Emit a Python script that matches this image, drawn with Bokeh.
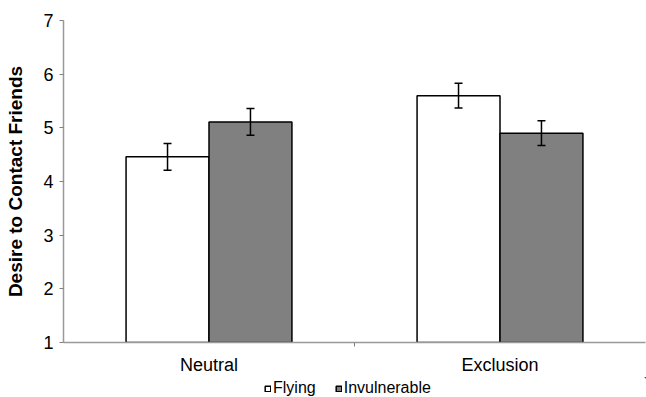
from bokeh.plotting import figure
from bokeh.layouts import column
from bokeh.models import ColumnDataSource, FixedTicker, Range1d, Whisker, TeeHead, Legend, LegendItem
from bokeh.embed import file_html
from bokeh.resources import INLINE

categories = ["Neutral", "Exclusion"]
series = ["Flying", "Invulnerable"]
flying = [4.46, 5.60]
invulnerable = [5.11, 4.90]
flying_err = [0.25, 0.23]
invulnerable_err = [0.25, 0.23]
y_ticks = [1, 2, 3, 4, 5, 6, 7]

FONT = "Liberation Sans"
WHITE = "white"
GRAY = "#808080"
centers = [i + 0.5 for i in range(len(categories))]
bw = 0.285

p = figure(width=646, height=377, output_backend="svg", toolbar_location=None,
           x_range=Range1d(0, len(categories)), y_range=Range1d(1, 7),
           min_border_left=63, min_border_right=1, min_border_top=20, min_border_bottom=35)
p.outline_line_color = None
p.grid.grid_line_color = None

src_f = ColumnDataSource(dict(x=[c - bw / 2 for c in centers], top=flying,
                              lo=[v - e for v, e in zip(flying, flying_err)],
                              hi=[v + e for v, e in zip(flying, flying_err)]))
src_i = ColumnDataSource(dict(x=[c + bw / 2 for c in centers], top=invulnerable,
                              lo=[v - e for v, e in zip(invulnerable, invulnerable_err)],
                              hi=[v + e for v, e in zip(invulnerable, invulnerable_err)]))

p.vbar(x="x", top="top", bottom=1, width=bw, source=src_f,
       fill_color=WHITE, line_color="black", line_width=1.5)
p.vbar(x="x", top="top", bottom=1, width=bw, source=src_i,
       fill_color=GRAY, line_color="black", line_width=1.5)

for src in (src_f, src_i):
    w = Whisker(base="x", lower="lo", upper="hi", source=src, level="overlay",
                line_color="black", line_width=1.5,
                upper_head=TeeHead(size=8, line_color="black", line_width=1.5),
                lower_head=TeeHead(size=8, line_color="black", line_width=1.5))
    p.add_layout(w)

# x axis
p.xaxis.ticker = FixedTicker(ticks=centers, minor_ticks=[1])
p.xaxis.major_label_overrides = {c: n for c, n in zip(centers, categories)}
p.xaxis.major_tick_out = 0
p.xaxis.major_tick_in = 0
p.xaxis.minor_tick_out = 4
p.xaxis.minor_tick_in = 0
p.xaxis.minor_tick_line_color = "#808080"
p.xaxis.axis_line_color = "#999999"
p.xaxis.axis_line_width = 1.5
p.xaxis.major_label_text_font = FONT
p.xaxis.major_label_text_font_size = "18px"
p.xaxis.major_label_text_color = "black"
p.xaxis.major_label_standoff = 8

# y axis
p.yaxis.ticker = FixedTicker(ticks=y_ticks)
p.yaxis.minor_tick_line_color = None
p.yaxis.major_tick_out = 4
p.yaxis.major_tick_in = 0
p.yaxis.major_tick_line_color = "#808080"
p.yaxis.axis_line_color = "#999999"
p.yaxis.axis_line_width = 1.5
p.yaxis.major_label_text_font = FONT
p.yaxis.major_label_text_font_size = "18px"
p.yaxis.major_label_text_color = "black"
p.yaxis.major_label_standoff = 6
p.yaxis.axis_label = "Desire to Contact Friends"
p.yaxis.axis_label_text_font = FONT
p.yaxis.axis_label_text_font_size = "19px"
p.yaxis.axis_label_text_font_style = "bold"
p.yaxis.axis_label_text_color = "black"
p.yaxis.axis_label_standoff = 14

# legend strip below the chart (its bars lie outside its visible ranges; only the legend shows)
lg = figure(width=646, height=20, output_backend="svg", toolbar_location=None,
            x_range=Range1d(-20, -19), y_range=Range1d(-20, -19),
            min_border=0, outline_line_color=None)
lg.axis.visible = False
lg.grid.grid_line_color = None
r1 = lg.vbar(x="x", top="top", bottom=1, width=bw, source=ColumnDataSource(dict(src_f.data)),
             fill_color=WHITE, line_color="black", line_width=1.5)
r2 = lg.vbar(x="x", top="top", bottom=1, width=bw, source=ColumnDataSource(dict(src_i.data)),
             fill_color=GRAY, line_color="black", line_width=1.5)
legend = Legend(items=[LegendItem(label=series[0], renderers=[r1]),
                       LegendItem(label=series[1], renderers=[r2])],
                orientation="horizontal", location=(201, 0),
                label_text_font=FONT, label_text_font_size="16px",
                label_text_color="black",
                glyph_width=7, glyph_height=7, label_standoff=2, spacing=19,
                padding=2, margin=0, border_line_color=None,
                background_fill_alpha=0, label_height=16)
lg.add_layout(legend, "center")

open("out.html", "w").write(file_html(column(p, lg, spacing=0), INLINE))
